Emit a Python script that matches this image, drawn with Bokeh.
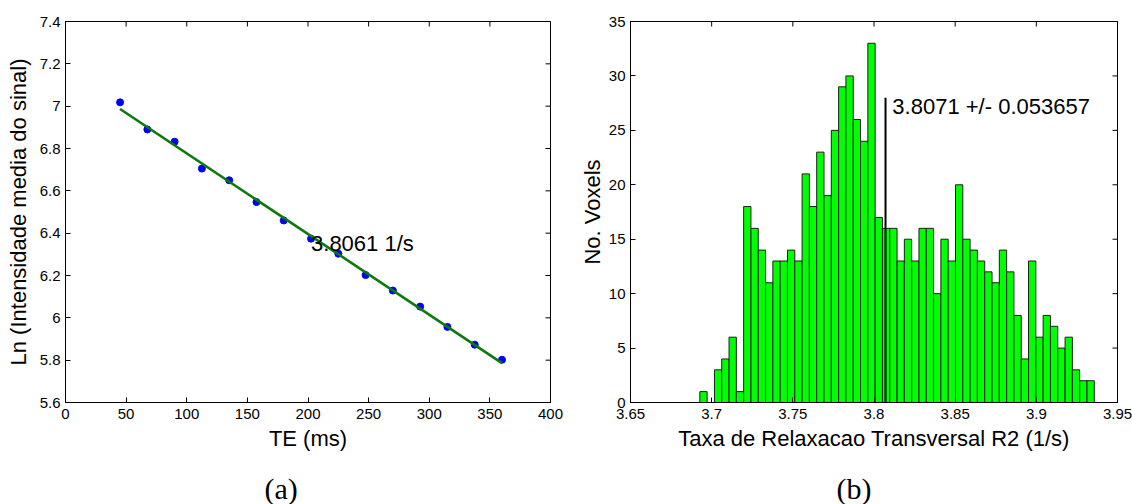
import numpy as np
from bokeh.plotting import figure
from bokeh.models import Range1d, FixedTicker, CustomJSTickFormatter
from bokeh.layouts import row, column
from bokeh.embed import file_html
from bokeh.resources import INLINE
from bokeh.core.properties import value

# ---------------- data: panel (a) ----------------
te_ms = [45, 67.5, 90, 112.5, 135, 157.5, 180, 202.5, 225, 247.5, 270, 292.5, 315, 337.5, 360]
ln_signal = [7.018, 6.890, 6.832, 6.705, 6.650, 6.547, 6.460, 6.374, 6.303,
             6.202, 6.129, 6.053, 5.957, 5.873, 5.802]
fit_rate_label = "3.8061 1/s"
a_xticks = [0, 50, 100, 150, 200, 250, 300, 350, 400]
a_yticks = [5.6, 5.8, 6.0, 6.2, 6.4, 6.6, 6.8, 7.0, 7.2, 7.4]

# ---------------- data: panel (b) ----------------
hist_first_edge = 3.6927
hist_bin_width = 0.0045
voxel_counts = [1, 0, 3, 4, 6, 1, 18, 16, 14, 11, 13, 13, 14, 13, 21, 18, 23, 19, 25, 29,
                30, 26, 24, 33, 17, 16, 16, 13, 15, 13, 16, 16, 10, 15, 13, 20, 15, 14, 13, 12,
                11, 14, 12, 8, 4, 13, 6, 8, 7, 5, 6, 3, 2, 2]
r2_mean = 3.8071
r2_std = 0.053657
mean_line_height = 28
b_xticks = [3.65, 3.7, 3.75, 3.8, 3.85, 3.9, 3.95]
b_yticks = [0, 5, 10, 15, 20, 25, 30, 35]

captions = ["(a)", "(b)"]

FONT = "Liberation Sans"
SERIF = "Liberation Serif"
fmt_code = "return String(parseFloat(tick.toFixed(4)));"

W_A, W_B = 575, 557
H_TOP, H_CAP = 460, 44


def style(p, xt, yt, xlabel, ylabel, ystand):
    p.xgrid.grid_line_color = None
    p.ygrid.grid_line_color = None
    p.outline_line_color = "black"
    p.outline_line_width = 1
    p.outline_line_alpha = 1
    p.background_fill_color = "white"
    p.border_fill_color = "white"
    p.xaxis.ticker = FixedTicker(ticks=xt)
    p.yaxis.ticker = FixedTicker(ticks=yt)
    for ax in (p.xaxis[0], p.yaxis[0]):
        ax.formatter = CustomJSTickFormatter(code=fmt_code)
        ax.major_tick_in = 5
        ax.major_tick_out = 0
        ax.minor_tick_line_color = None
        ax.axis_line_color = "black"
        ax.major_tick_line_color = "black"
        ax.major_label_text_font = FONT
        ax.major_label_text_font_size = "15px"
        ax.major_label_text_color = "black"
        ax.axis_label_text_font = FONT
        ax.axis_label_text_font_size = "22px"
        ax.axis_label_text_font_style = "normal"
        ax.axis_label_text_color = "black"
    p.xaxis.major_label_standoff = 6
    p.yaxis.major_label_standoff = 5
    p.xaxis.axis_label = xlabel
    p.yaxis.axis_label = ylabel
    p.xaxis.axis_label_standoff = 4
    p.yaxis.axis_label_standoff = ystand
    # inward ticks on the top and right edges of the box (outer halves clipped by the frame)
    xr, yr = p.x_range, p.y_range
    p.scatter(xt, [yr.end] * len(xt), marker="dash", angle=np.pi / 2, size=10,
              line_color="black", line_width=1)
    p.scatter([xr.end] * len(yt), yt, marker="dash", angle=0, size=10,
              line_color="black", line_width=1)


def caption_strip(width, text, left_px, top_px):
    c = figure(width=width, height=H_CAP, x_range=Range1d(0, width), y_range=Range1d(H_CAP, 0),
               x_axis_type=None, y_axis_type=None, output_backend="svg", toolbar_location=None,
               min_border=0)
    c.grid.grid_line_color = None
    c.outline_line_color = None
    c.text(x=[left_px], y=[top_px], text=[text], text_font=value(SERIF),
           text_font_size="30px", text_baseline="top", text_align="left", text_color="black")
    return c


# ---------------- panel (a) ----------------
pA = figure(width=W_A, height=H_TOP, x_range=Range1d(0, 400), y_range=Range1d(5.6, 7.4),
            output_backend="svg", toolbar_location=None,
            min_border_left=65, min_border_right=25, min_border_top=21, min_border_bottom=58)
style(pA, a_xticks, a_yticks, "TE (ms)", "Ln (Intensidade media do sinal)", 6)

slope, intercept = np.polyfit(te_ms, ln_signal, 1)
fit_x = [te_ms[0], te_ms[-1]]
fit_y = [intercept + slope * v for v in fit_x]
pA.scatter(te_ms, ln_signal, size=7, fill_color="#0000FF", line_color="#0000FF")
pA.line(fit_x, fit_y, line_color="#0B7A0B", line_width=2.6)
pA.text(x=[te_ms[7]], y=[6.35], text=[fit_rate_label], text_font=value(FONT),
        text_font_size="22px", text_baseline="alphabetic", text_align="left", text_color="black")

# ---------------- panel (b) ----------------
pB = figure(width=W_B, height=H_TOP, x_range=Range1d(3.65, 3.95), y_range=Range1d(0, 35),
            output_backend="svg", toolbar_location=None,
            min_border_left=55, min_border_right=15, min_border_top=21, min_border_bottom=55)
style(pB, b_xticks, b_yticks, "Taxa de Relaxacao Transversal R2 (1/s)", "No. Voxels", 1)

edges = hist_first_edge + hist_bin_width * np.arange(len(voxel_counts) + 1)
pB.quad(left=edges[:-1], right=edges[1:], bottom=0, top=voxel_counts,
        fill_color="#00FF00", line_color="#1E1E1E", line_width=1)
pB.line([r2_mean, r2_mean], [0, mean_line_height], line_color="black", line_width=2)
pB.text(x=[r2_mean + 0.0042], y=[27.2], text=[f"{r2_mean} +/- {r2_std}"],
        text_font=value(FONT), text_font_size="22px", text_baseline="alphabetic",
        text_align="left", text_color="black")

# ---------------- captions ----------------
cA = caption_strip(W_A, captions[0], 264, 11)
cB = caption_strip(W_B, captions[1], 261, 11)

layout = column(row(pA, pB), row(cA, cB))
open("out.html", "w").write(file_html(layout, INLINE))
